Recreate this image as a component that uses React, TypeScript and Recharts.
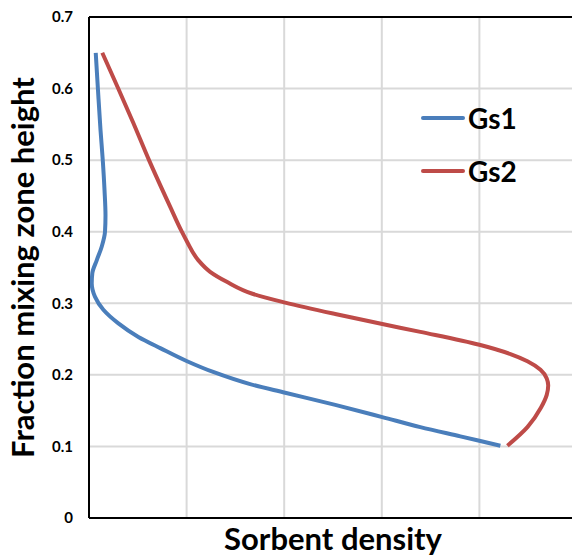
import { LineChart, Line, XAxis, YAxis, CartesianGrid, ReferenceLine, Label } from 'recharts';

// Gs1 curve (x in grid units, y = fraction of mixing zone height)
const gs1X = [0.069, 0.092, 0.118, 0.141, 0.159, 0.169, 0.164, 0.13, 0.079, 0.034, 0.028, 0.062, 0.147, 0.301, 0.506, 0.735, 1.005, 1.272, 1.651, 2.01, 2.523, 3.005, 3.395, 3.805, 4.215];
const gs1Y = [0.65, 0.598, 0.542, 0.5, 0.458, 0.423, 0.4, 0.379, 0.36, 0.342, 0.328, 0.309, 0.291, 0.272, 0.253, 0.237, 0.219, 0.204, 0.187, 0.175, 0.158, 0.141, 0.127, 0.114, 0.101];

const gs2X = [0.136, 0.303, 0.451, 0.615, 0.831, 0.951, 1.005, 1.121, 1.241, 1.412, 1.682, 2.01, 2.523, 3.005, 3.395, 4.0, 4.318, 4.492, 4.626, 4.69, 4.705, 4.69, 4.63, 4.492, 4.287];
const gs2Y = [0.65, 0.599, 0.553, 0.5, 0.435, 0.4, 0.386, 0.36, 0.344, 0.33, 0.313, 0.301, 0.285, 0.271, 0.26, 0.242, 0.229, 0.219, 0.207, 0.195, 0.185, 0.172, 0.154, 0.127, 0.101];

const yTicks = [0, 0.1, 0.2, 0.3, 0.4, 0.5, 0.6, 0.7];
const xTicks = [0, 1, 2, 3, 4, 5];

const gs1 = gs1X.map((x, i) => ({ x, y: gs1Y[i] }));
const gs2 = gs2X.map((x, i) => ({ x, y: gs2Y[i] }));

const series = [
  { name: 'Gs1', color: '#4a7ebb', data: gs1 },
  { name: 'Gs2', color: '#be4b48', data: gs2 },
];

const FONT = 'Lato, "Open Sans", sans-serif';

const YTitle = ({ viewBox }: any) => {
  const cx = 34;
  const cy = viewBox.y + viewBox.height / 2;
  return (
    <text x={cx} y={cy} transform={`rotate(-90, ${cx}, ${cy})`} textAnchor="middle"
      fontFamily={FONT} fontWeight={700} fontSize={31} fill="#000">
      Fraction mixing zone height
    </text>
  );
};

const XTitle = ({ viewBox }: any) => (
  <text x={viewBox.x + viewBox.width / 2} y={550} textAnchor="middle"
    fontFamily={FONT} fontWeight={700} fontSize={31} fill="#000">
    Sorbent density
  </text>
);

export default function App() {
  return (
    <div style={{ position: 'absolute', left: 0, top: 0, width: 572, height: 557, overflow: 'hidden', background: '#fff' }}>
      <LineChart width={577} height={557} margin={{ top: 17, right: 0, left: 0, bottom: 0 }}>
        <CartesianGrid stroke="#d9d9d9" strokeWidth={2} />
        <XAxis type="number" dataKey="x" domain={[0, 5]} ticks={xTicks} tick={() => <g />} tickLine={false}
          axisLine={{ stroke: '#000', strokeWidth: 2 }} height={39}>
          <Label content={<XTitle />} />
        </XAxis>
        <YAxis type="number" dataKey="y" domain={[0, 0.7]} ticks={yTicks} width={89} tickLine={false} tickSize={0} tickMargin={16}
          axisLine={{ stroke: '#000', strokeWidth: 2 }}
          tickFormatter={(v: number) => (v === 0 ? '0' : v.toFixed(1))}
          tick={{ fontFamily: FONT, fontWeight: 700, fontSize: 15, fill: '#000' }}>
          <Label content={<YTitle />} />
        </YAxis>
        <ReferenceLine y={0.7} stroke="#000" strokeWidth={2} />
        {series.map((s) => (
          <Line key={s.name} data={s.data} dataKey="y" name={s.name} type="monotoneY" stroke={s.color} strokeWidth={4}
            dot={false} isAnimationActive={false} />
        ))}
      </LineChart>
      <div style={{ position: 'absolute', left: 421, top: 91, fontFamily: FONT }}>
        {series.map((s) => (
          <div key={s.name} style={{ display: 'flex', alignItems: 'center', height: 53 }}>
            <div style={{ width: 44, height: 4, borderRadius: 2, backgroundColor: s.color, marginRight: 3 }} />
            <span style={{ fontSize: 28, fontWeight: 700, color: '#000' }}>{s.name}</span>
          </div>
        ))}
      </div>
    </div>
  );
}
